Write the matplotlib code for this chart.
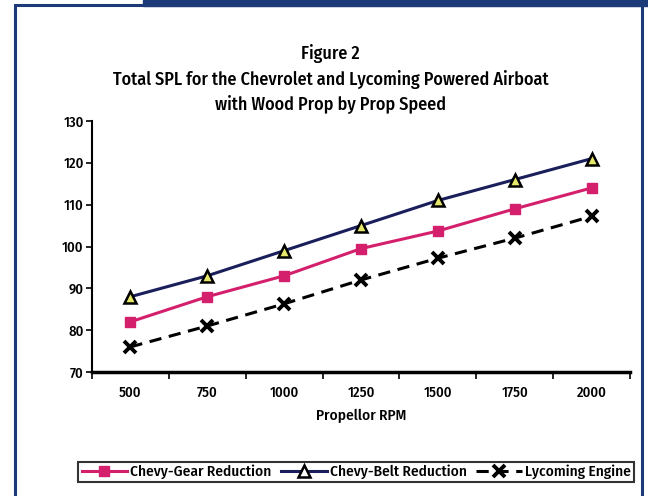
import numpy as np
import matplotlib
matplotlib.use("Agg")
import matplotlib.pyplot as plt
from matplotlib.patches import Rectangle

# data
rpm = ["500", "750", "1000", "1250", "1500", "1750", "2000"]
gear = [82, 88, 93, 99.5, 103.7, 109, 114]
belt = [88, 93, 99, 105, 111, 116, 121]
lycoming = [76, 81, 86.3, 92, 97.2, 102, 107.2]

title = "Figure 2\nTotal SPL for the Chevrolet and Lycoming Powered Airboat\nwith Wood Prop by Prop Speed"

plt.rcParams['font.family'] = ['Fira Sans Condensed', 'DejaVu Sans']
plt.rcParams['font.weight'] = 'medium'
plt.rcParams['axes.labelweight'] = 'medium'

navy = "#1d3a78"
fig = plt.figure(figsize=(6.48, 4.96), dpi=100)

# frame round the chart
fig.add_artist(Rectangle((15/648, -0.02), (642-15)/648, 1.02 - 5/496,
                         transform=fig.transFigure, fill=False,
                         edgecolor=navy, linewidth=2.2))
fig.add_artist(Rectangle((143/648, 1 - 6/496), 1, 6/496,
                         transform=fig.transFigure, color=navy))

ax = fig.add_axes([92/648, 1 - 372/496, (630-92)/648, (372-121)/496])
x = np.arange(len(rpm))

ax.plot(x, gear, color="#d4206c", lw=2.2, marker="s", ms=7,
        mfc="#d4206c", mec="#d4206c", label="Chevy-Gear Reduction")
ax.plot(x, belt, color="#1a1f5c", lw=2.2, marker="^", ms=8,
        mfc="#e6e86a", mec="black", mew=1.8, label="Chevy-Belt Reduction")
ax.plot(x, lycoming, color="black", lw=2.2, ls=(0, (4, 2.5)), marker="x",
        ms=9, mew=2.8, label="Lycoming Engine")

ax.set_xlim(-0.5, len(rpm) - 0.5)
ax.set_ylim(70, 130)
ax.set_yticks(range(70, 131, 10))
ax.set_xticks(x)
ax.set_xticklabels(rpm)
ax.set_xticks(np.arange(-0.5, len(rpm)), minor=True)
ax.tick_params(axis="x", which="major", length=0, pad=10, labelsize=10.5)
ax.tick_params(axis="x", which="minor", length=5, width=1.2, direction="out")
ax.tick_params(axis="y", length=4, width=1.2, pad=2, labelsize=10.5)
for s in ["top", "right"]:
    ax.spines[s].set_visible(False)
ax.spines["left"].set_linewidth(1.5)
ax.spines["bottom"].set_linewidth(2.5)

ax.set_xlabel("Propellor RPM", fontsize=11, labelpad=6)

fig.text(0.51, 1 - 44/496, title, ha="center", va="top", fontsize=13,
         linespacing=1.45)

leg = ax.legend(loc="center", bbox_to_anchor=(356/648, 1 - 472/496),
                bbox_transform=fig.transFigure, ncol=3, frameon=True,
                fancybox=False, edgecolor="black", fontsize=11,
                handlelength=3, columnspacing=0.6, handletextpad=0.2,
                borderpad=0.2, borderaxespad=0)
leg.get_frame().set_linewidth(1.5)
leg.legend_handles[1].set_markerfacecolor("white")

fig.savefig("out.png", dpi=100)
